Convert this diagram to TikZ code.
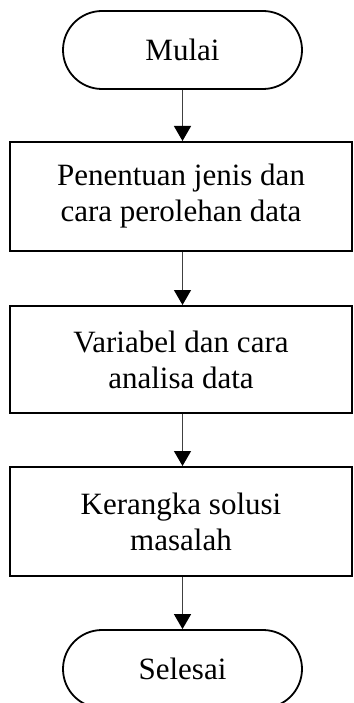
\documentclass[tikz,border=0pt]{standalone}
\usepackage{fontspec}
\setmainfont{Liberation Serif}
\usetikzlibrary{arrows.meta}
\tikzset{
  term/.style={draw=black, line width=1.8pt, rounded corners=39pt, minimum width=239pt, minimum height=78pt, inner sep=0pt, align=center, font=\fontsize{31}{36}\selectfont},
  procbox/.style={draw=black, line width=2pt, minimum width=342pt, inner sep=0pt, align=center, font=\fontsize{31}{36}\selectfont},
  flow/.style={draw=black!75, line width=1.3pt, -{Triangle[width=17pt,length=15pt,fill=black,color=black]}}
}
\begin{document}
\begin{tikzpicture}[x=1pt,y=-1pt]
\clip (0,0) rectangle (353,703);
\node[term] (mulai) at (182.5,50) {Mulai};
\node[procbox, minimum height=109pt] (p1) at (181,196.5) {Penentuan jenis dan\\cara perolehan data};
\node[procbox, minimum height=107pt] (p2) at (181,359.5) {Variabel dan cara\\analisa data};
\node[procbox, minimum height=109pt] (p3) at (181,521.5) {Kerangka solusi\\masalah};
\node[term] (selesai) at (182.5,669) {Selesai};
\draw[flow] (mulai.south) -- (p1.north -| mulai.south);
\draw[flow] (p1.south -| mulai.south) -- (p2.north -| mulai.south);
\draw[flow] (p2.south -| mulai.south) -- (p3.north -| mulai.south);
\draw[flow] (p3.south -| mulai.south) -- (selesai.north);
\end{tikzpicture}
\end{document}
